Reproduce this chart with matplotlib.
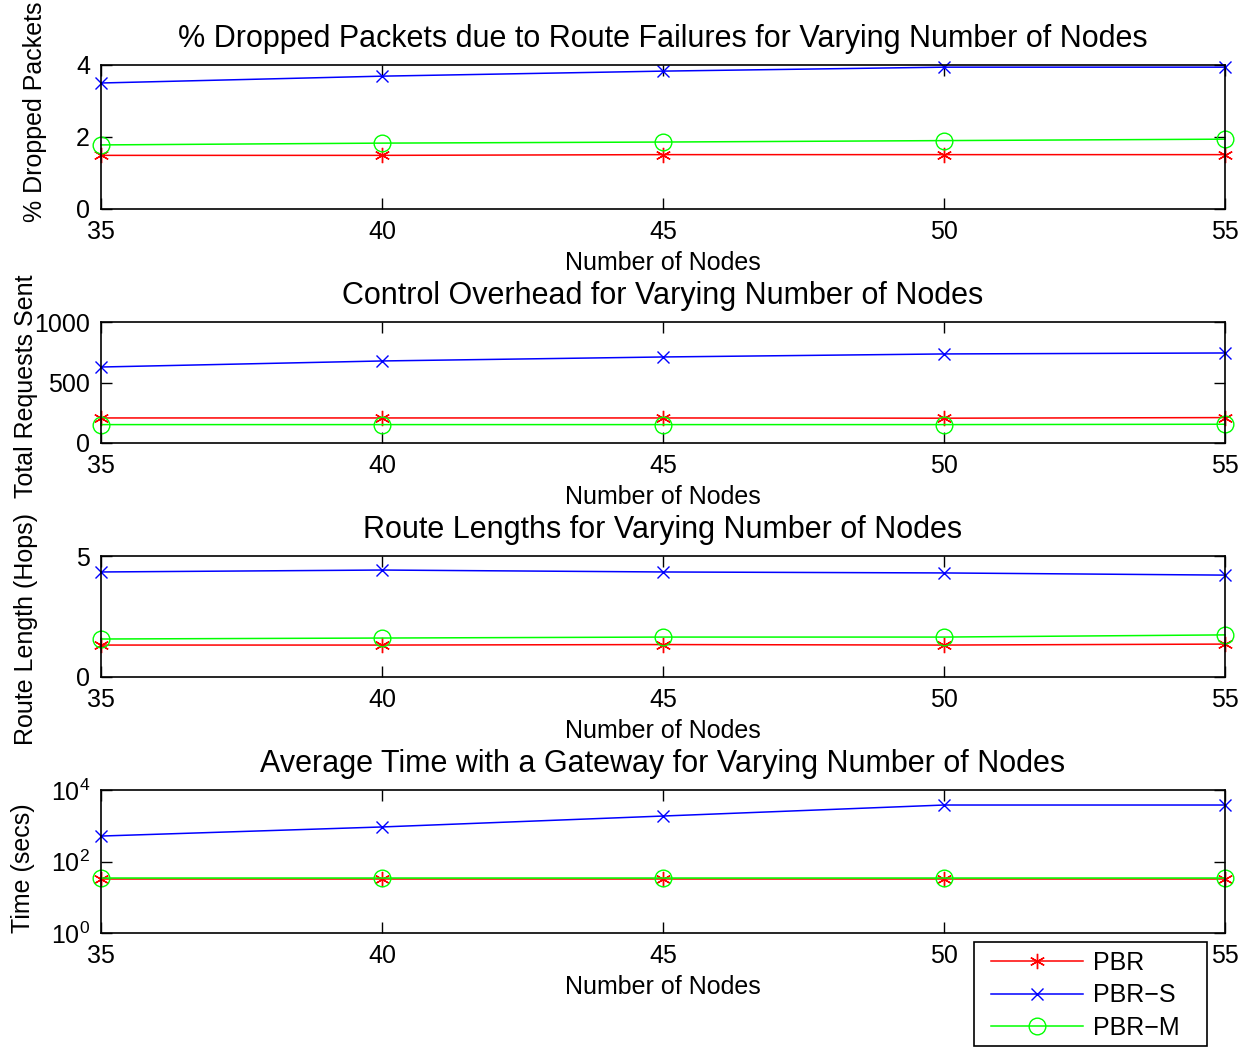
import matplotlib
matplotlib.use("Agg")
import matplotlib.pyplot as plt
from matplotlib.patches import Rectangle
from matplotlib.ticker import FixedLocator, NullLocator

plt.rcParams['font.family'] = ['Liberation Sans', 'DejaVu Sans']
plt.rcParams['mathtext.fontset'] = 'custom'
plt.rcParams['mathtext.rm'] = 'Liberation Sans'
plt.rcParams['mathtext.it'] = 'Liberation Sans'

nodes = [35, 40, 45, 50, 55]

# % dropped packets due to route failures
drop_pbr = [1.49, 1.49, 1.51, 1.51, 1.51]
drop_pbr_s = [3.50, 3.69, 3.83, 3.94, 3.94]
drop_pbr_m = [1.78, 1.83, 1.86, 1.90, 1.94]

# total route requests sent
ovh_pbr = [207, 207, 207, 205, 210]
ovh_pbr_s = [628, 678, 711, 736, 744]
ovh_pbr_m = [152, 152, 152, 152, 155]

# route length in hops
len_pbr = [1.32, 1.32, 1.34, 1.32, 1.36]
len_pbr_s = [4.34, 4.42, 4.34, 4.30, 4.21]
len_pbr_m = [1.57, 1.61, 1.65, 1.65, 1.74]

# average time with a gateway (secs)
gw_pbr = [33, 33, 33, 33, 33]
gw_pbr_s = [515, 925, 1870, 3800, 3800]
gw_pbr_m = [35, 35, 35, 35, 35]

titles = ["% Dropped Packets due to Route Failures for Varying Number of Nodes",
          "Control Overhead for Varying Number of Nodes",
          "Route Lengths for Varying Number of Nodes",
          "Average Time with a Gateway for Varying Number of Nodes"]
ylabels = ["% Dropped Packets", "Total Requests Sent",
           "Route Length (Hops)", "Time (secs)"]
yticks = [[0, 2, 4], [0, 500, 1000], [0, 5], [1, 100, 10000]]
ylims = [(0, 4), (0, 1000), (0, 5), (1, 10000)]
series = [(drop_pbr, drop_pbr_s, drop_pbr_m),
          (ovh_pbr, ovh_pbr_s, ovh_pbr_m),
          (len_pbr, len_pbr_s, len_pbr_m),
          (gw_pbr, gw_pbr_s, gw_pbr_m)]

W, H = 1250, 1047
# axes boxes in pixels: top, bottom
boxes = [(65, 209), (322, 443), (556, 677), (790, 933)]
# ylabel anchor in pixels (right edge x, centre y)
ylab_pos = [(47, 112), (38, 386), (38, 629), (35, 868)]
left, right = 101, 1225

fig = plt.figure(figsize=(W / 100, H / 100), dpi=100)

asterisk = (6, 2, 0)
lines = []
for i in range(4):
    top, bot = boxes[i]
    ax = fig.add_axes([left / W, 1 - bot / H, (right - left) / W, (bot - top) / H])
    pbr, pbr_s, pbr_m = series[i]
    l1, = ax.plot(nodes, pbr, color=(1, 0, 0), marker=asterisk, markersize=11,
                  lw=1.1, markeredgewidth=1.0, label="PBR", clip_on=False)
    l2, = ax.plot(nodes, pbr_s, color=(0, 0, 1), marker='x', markersize=9,
                  lw=1.1, markeredgewidth=1.0, label="PBR\u2212S", clip_on=False)
    l3, = ax.plot(nodes, pbr_m, color=(0, 1, 0), marker='o', markersize=12,
                  markerfacecolor='none', lw=1.1, markeredgewidth=1.0,
                  label="PBR\u2212M", clip_on=False)
    lines = [l1, l2, l3]
    if i == 3:
        ax.set_yscale('log')
        ax.yaxis.set_minor_locator(NullLocator())
    ax.set_ylim(*ylims[i])
    ax.yaxis.set_major_locator(FixedLocator(yticks[i]))
    ax.set_xlim(35, 55)
    ax.set_xticks(nodes)
    ax.tick_params(direction='in', length=8, width=1, top=True, right=True,
                   labelsize=18, pad=8)
    for s in ax.spines.values():
        s.set_linewidth(1.2)
    ax.set_title(titles[i], fontsize=22, pad=13)
    ax.set_xlabel("Number of Nodes", fontsize=18, labelpad=5)
    ax.set_ylabel(ylabels[i], fontsize=18)
    lx, ly = ylab_pos[i]
    ax.yaxis.set_label_coords((lx - left) / (right - left), (bot - ly) / (bot - top))

# legend box with wider right margin, drawn separately from the entries
fig.patches.append(Rectangle((974 / W, 1 - 1046 / H), (1207 - 974) / W, (1046 - 942) / H,
                             transform=fig.transFigure, facecolor='white',
                             edgecolor='black', linewidth=1.2, zorder=5))
leg = fig.legend(handles=lines, loc='upper left',
                 bbox_to_anchor=(991 / W, 1 - 951 / H), borderaxespad=0,
                 borderpad=0, fontsize=18, frameon=False,
                 handlelength=3.68, labelspacing=0.34, handletextpad=0.4)
leg.set_zorder(6)

fig.savefig("out.png", dpi=100)
